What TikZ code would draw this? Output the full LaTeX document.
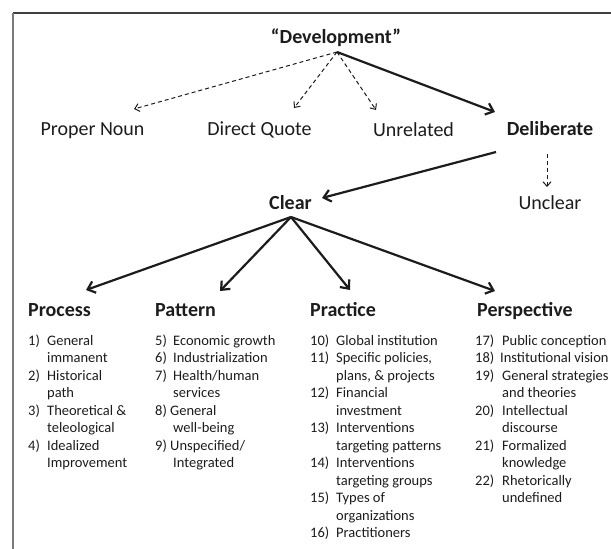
\documentclass[tikz,border=0pt]{standalone}
\usepackage{fontspec}
\setmainfont{Carlito}
\usepackage{xcolor}
\usepackage{tikz}
\usetikzlibrary{arrows.meta}

\definecolor{ink}{HTML}{1C1C1C}
\definecolor{rimtop}{HTML}{404040}
\definecolor{rimleft}{HTML}{7A7A7A}

% numbered list: first column holds the numbers
\newcommand{\numlist}[2]{\begin{tabular}[t]{@{}p{#1}@{}l@{}}#2\end{tabular}}

\begin{document}
\begin{tikzpicture}[
  x=1pt, y=-1pt,
  lbl/.style={font=\fontsize{20}{24}\selectfont, text=ink, inner sep=0pt, anchor=base},
  hd/.style={lbl, font=\fontsize{20}{24}\selectfont\bfseries},
  lst/.style={font=\fontsize{14.5}{17.5}\selectfont, text=ink, inner sep=0pt, anchor=base west},
  arr/.style={-{Straight Barb[length=7pt,width=12pt]}, line width=2.2pt, draw=ink},
  dsh/.style={-{Straight Barb[length=4.5pt,width=8pt]}, line width=1pt,
              dash pattern=on 4pt off 3pt, draw=ink}
]
\useasboundingbox (0,0) rectangle (611,549);

%% --- Frame (top and left edges only) ---
\draw[rimtop, line width=1.5pt] (13,13) -- (611,13);
\draw[rimleft, line width=1.8pt] (13,13) -- (13,549);

%% --- Root ---
\node[hd] (dev) at (336,43) {``Development''};

%% --- First split ---
\node[lbl] (pn)  at (92.5,135)  {Proper Noun};
\node[lbl] (dq)  at (259.5,135) {Direct Quote};
\node[lbl] (unr) at (413.5,136) {Unrelated};
\node[hd]  (del) at (550,135)   {Deliberate};

\draw[dsh] ([xshift=1pt,yshift=-9pt]dev.base) -- ([xshift=41.5pt,yshift=26pt]pn.base);
\draw[dsh] ([xshift=1pt,yshift=-9pt]dev.base) -- ([xshift=34.5pt,yshift=27pt]dq.base);
\draw[dsh] ([xshift=1pt,yshift=-9pt]dev.base) -- ([xshift=-37.5pt,yshift=26pt]unr.base);
\draw[arr] ([xshift=1pt,yshift=-9pt]dev.base) -- ([xshift=-55pt,yshift=23pt]del.base);

%% --- Deliberate: clear / unclear ---
\node[hd]  (clear) at (290.5,209) {Clear};
\node[lbl] (uncl)  at (550,209)   {Unclear};

\draw[arr] ([xshift=-54pt,yshift=-17pt]del.base) -- ([xshift=31.5pt,yshift=11pt]clear.base);
\draw[dsh] ([xshift=-3pt,yshift=-19pt]del.base) -- ([xshift=-3pt,yshift=22pt]uncl.base);

%% --- Four types ---
\node[hd, anchor=base west] (proc)  at (28,316)  {Process};
\node[hd, anchor=base west] (pat)   at (155,316) {Pattern};
\node[hd, anchor=base west] (prac)  at (310,316) {Practice};
\node[hd, anchor=base west] (persp) at (477,316) {Perspective};

\draw[arr] ([xshift=0.5pt,yshift=-8pt]clear.base) -- ([xshift=58pt,yshift=26pt]proc.base west);
\draw[arr] ([xshift=0.5pt,yshift=-8pt]clear.base) -- ([xshift=65pt,yshift=25pt]pat.base west);
\draw[arr] ([xshift=0.5pt,yshift=-8pt]clear.base) -- ([xshift=40pt,yshift=26pt]prac.base west);
\draw[arr] ([xshift=0.5pt,yshift=-8pt]clear.base) -- ([xshift=18pt,yshift=25pt]persp.base west);

%% --- Sub-categories ---
\node[lst] (proclist) at (28,345) {\numlist{19pt}{
  1) & General\\
     & immanent\\
  2) & Historical\\
     & path\\
  3) & Theoretical \&\\
     & teleological\\
  4) & Idealized\\
     & Improvement}};

\node[lst] (patlist) at (155,345) {\numlist{18pt}{
  5) & Economic growth\\
  6) & Industrialization\\
  7) & Health/human\\
     & services\\
  8) & \hspace{-3pt}General\\
     & well-being\\
  9) & \hspace{-3pt}Unspecified/\\
     & Integrated}};

\node[lst] (praclist) at (310,345) {\numlist{26pt}{
  10) & Global institution\\
  11) & Specific policies,\\
      & plans, \& projects\\
  12) & Financial\\
      & investment\\
  13) & Interventions\\
      & targeting patterns\\
  14) & Interventions\\
      & targeting groups\\
  15) & Types of\\
      & organizations\\
  16) & Practitioners}};

\node[lst] (persplist) at (475,345) {\numlist{27pt}{
  17) & Public conception\\
  18) & \hspace{-2pt}Institutional vision\\
  19) & General strategies\\
      & and theories\\
  20) & Intellectual\\
      & discourse\\
  21) & Formalized\\
      & knowledge\\
  22) & Rhetorically\\
      & undefined}};
\end{tikzpicture}
\end{document}
